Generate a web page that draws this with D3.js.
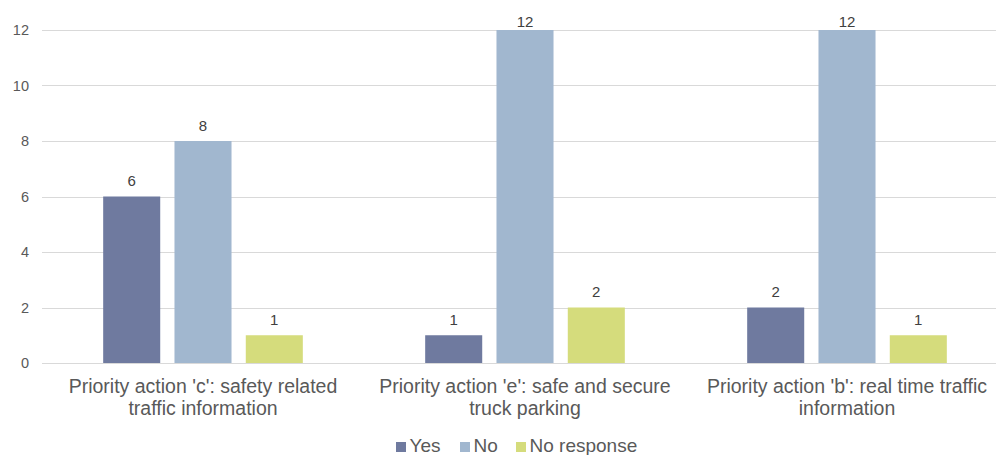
<!DOCTYPE html>
<html>
<head>
<meta charset="utf-8">
<script src="https://cdn.jsdelivr.net/npm/d3@7"></script>
<style>
  body { margin: 0; background: #fff; }
  svg { display: block; font-family: "Liberation Sans", Arial, sans-serif; }
</style>
</head>
<body>
<script>
// data
const categories = [
  "Priority action 'c': safety related|traffic information",
  "Priority action 'e': safe and secure|truck parking",
  "Priority action 'b': real time traffic|information"
];
const seriesNames = ['Yes', 'No', 'No response'];
const yesValues = [6, 1, 2];
const noValues = [8, 12, 12];
const noResponseValues = [1, 2, 1];
const yTicks = [0, 2, 4, 6, 8, 10, 12];
const colors = ['#6f7a9f', '#a1b7cf', '#d5dc7c'];

const W = 996, H = 455;
const margin = {top: 30, left: 42, bottom: 92};
const plotRight = 1008;  // plot runs past the right edge (cropped)

const svg = d3.select('body').append('svg')
  .attr('width', W).attr('height', H);

const yscale = d3.scaleLinear().domain([0, 12]).range([H - margin.bottom, margin.top]);
const xscale = d3.scaleBand().domain(categories).range([margin.left, plotRight])
  .paddingInner(0.38).paddingOuter(0.19);
const xsub = d3.scaleBand().domain(seriesNames).range([0, xscale.bandwidth()]).paddingInner(0.2);

// gridlines
svg.append('g').selectAll('line').data(yTicks).join('line')
  .attr('x1', margin.left).attr('x2', plotRight)
  .attr('y1', d => Math.round(yscale(d)) + 0.5).attr('y2', d => Math.round(yscale(d)) + 0.5)
  .attr('stroke', '#d9d9d9').attr('stroke-width', 1);

// y tick labels
svg.append('g').selectAll('text').data(yTicks).join('text')
  .attr('x', 29).attr('y', d => yscale(d) + 5)
  .attr('text-anchor', 'end')
  .attr('font-size', 14.5).attr('fill', '#595959')
  .text(d => d);

// bars
const table = categories.map((c, i) => ({
  cat: c,
  vals: [yesValues[i], noValues[i], noResponseValues[i]]
}));

const groups = svg.append('g').selectAll('g').data(table).join('g')
  .attr('transform', d => `translate(${xscale(d.cat)},0)`);

groups.selectAll('rect').data(d => d.vals.map((v, j) => ({name: seriesNames[j], v, j}))).join('rect')
  .attr('x', d => xsub(d.name))
  .attr('width', xsub.bandwidth())
  .attr('y', d => yscale(d.v))
  .attr('height', d => yscale(0) - yscale(d.v))
  .attr('fill', d => colors[d.j]);

groups.selectAll('text').data(d => d.vals.map((v, j) => ({name: seriesNames[j], v, j}))).join('text')
  .attr('x', d => xsub(d.name) + xsub.bandwidth() / 2)
  .attr('y', d => Math.max(yscale(d.v) - 10.5, 27))
  .attr('text-anchor', 'middle')
  .attr('font-size', 15).attr('fill', '#404040')
  .text(d => d.v);

// category labels
const catLabels = svg.append('g').selectAll('text').data(categories).join('text')
  .attr('text-anchor', 'middle')
  .attr('font-size', 19.5).attr('fill', '#595959');
catLabels.each(function(c) {
  const lines = c.split('|');
  const cx = xscale(c) + xscale.bandwidth() / 2;
  d3.select(this).selectAll('tspan').data(lines).join('tspan')
    .attr('x', cx)
    .attr('y', (d, i) => 393 + i * 22)
    .text(d => d);
});

// legend
const legendX = [396, 460, 516];
const legend = svg.append('g').selectAll('g').data(seriesNames).join('g')
  .attr('transform', (d, i) => `translate(${legendX[i]},${442})`);
legend.append('rect').attr('width', 10).attr('height', 10)
  .attr('fill', (d, i) => colors[i]);
legend.append('text').attr('x', 13.5).attr('y', 10)
  .attr('font-size', 19).attr('fill', '#595959')
  .text(d => d);
</script>
</body>
</html>
